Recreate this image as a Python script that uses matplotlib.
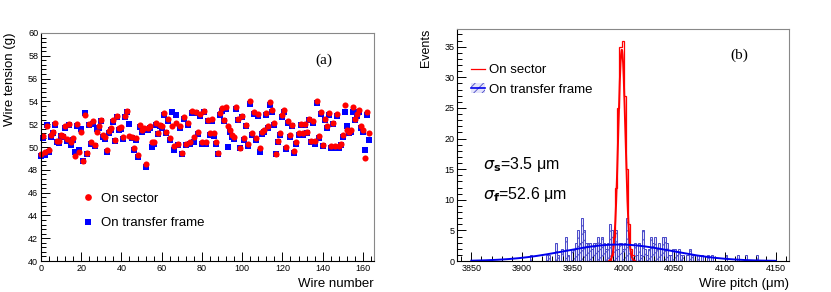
import numpy as np
import matplotlib
matplotlib.use("Agg")
import matplotlib.pyplot as plt
from matplotlib.ticker import MultipleLocator
from matplotlib.patches import Patch
from matplotlib.lines import Line2D

plt.rcParams['font.family'] = ['Liberation Sans', 'DejaVu Sans']
plt.rcParams['hatch.linewidth'] = 0.6

# (a) wire tension per wire
wire = np.arange(164)
tension_sector = [
    49.4, 51.0, 49.6, 51.85, 49.75, 51.05, 51.35, 52.1, 50.5, 50.5,
    51.05, 51.0, 51.85, 50.7, 52.05, 50.4, 50.8, 49.2, 52.0, 49.6,
    51.35, 48.8, 52.8, 49.45, 52.0, 50.45, 52.25, 50.2, 51.35, 51.85,
    52.4, 51.05, 50.9, 49.75, 51.4, 51.65, 52.4, 50.6, 52.75, 51.65,
    51.75, 50.85, 52.75, 53.2, 50.95, 50.85, 49.9, 50.75, 49.3, 51.95,
    51.5, 51.65, 48.5, 51.65, 51.8, 50.4, 50.4, 52.1, 51.25, 51.95,
    51.85, 53.0, 51.35, 52.45, 50.75, 51.85, 50.1, 52.1, 50.3, 51.8,
    49.5, 52.6, 50.3, 52.1, 50.45, 53.15, 50.9, 53.1, 51.35, 52.9,
    50.45, 53.2, 50.45, 52.4, 51.2, 52.45, 51.2, 50.45, 49.5, 52.95,
    53.4, 52.4, 53.5, 51.8, 51.5, 51.05, 50.85, 53.5, 52.5, 49.9,
    52.75, 50.75, 51.95, 50.25, 54.0, 51.2, 53.1, 50.75, 52.9, 49.9,
    51.3, 51.5, 52.95, 51.85, 53.95, 53.25, 52.1, 49.4, 50.55, 51.2,
    52.8, 53.25, 50.0, 52.3, 51.05, 51.95, 49.65, 50.45, 51.2, 52.05,
    51.2, 52.05, 51.35, 52.5, 50.55, 52.25, 50.55, 54.0, 50.95, 53.05,
    50.2, 52.5, 51.8, 52.95, 50.1, 52.15, 50.05, 52.9, 50.05, 50.3,
    51.05, 53.65, 51.5, 51.35, 51.5, 53.5, 52.5, 52.9, 53.25, 51.85,
    51.45, 49.05, 53.1, 51.25]
tension_frame = [
    49.25, 50.75, 49.3, 51.95, 49.6, 50.9, 51.2, 51.95, 50.4, 50.35,
    51.0, 50.85, 51.7, 50.55, 51.9, 50.2, 50.6, 49.55, 51.85, 49.75,
    51.55, 48.8, 52.95, 49.4, 51.95, 50.3, 52.05, 50.1, 51.6, 51.7,
    52.25, 50.85, 50.7, 49.6, 51.25, 51.5, 52.2, 50.5, 52.6, 51.5,
    51.6, 50.7, 52.6, 53.1, 52.0, 50.75, 49.75, 50.6, 49.1, 51.75,
    51.35, 51.5, 48.25, 51.5, 51.65, 50.0, 50.3, 51.95, 51.1, 51.8,
    51.65, 52.85, 51.2, 52.3, 50.6, 53.05, 49.75, 52.85, 50.15, 51.65,
    49.35, 52.45, 50.15, 51.9, 50.3, 53.0, 50.45, 53.0, 51.1, 52.7,
    50.3, 53.05, 50.3, 52.3, 51.05, 52.3, 51.0, 50.3, 49.35, 52.8,
    53.2, 52.25, 53.3, 50.0, 51.35, 50.9, 50.7, 53.3, 52.35, 49.9,
    52.6, 50.6, 51.8, 50.1, 53.8, 51.05, 52.9, 50.6, 52.7, 49.6,
    51.15, 51.35, 52.8, 51.7, 53.7, 53.1, 51.95, 49.35, 50.4, 51.05,
    52.65, 53.1, 49.85, 52.15, 50.9, 51.8, 49.5, 50.3, 51.05, 51.9,
    51.05, 51.9, 51.2, 52.35, 50.4, 52.1, 50.3, 53.85, 50.8, 52.9,
    50.05, 52.35, 51.65, 52.8, 49.95, 52.0, 49.9, 52.75, 49.9, 50.15,
    50.9, 53.1, 51.85, 51.2, 51.35, 53.1, 52.35, 52.7, 53.05, 51.7,
    51.3, 49.7, 52.85, 50.6]

# (b) wire pitch histograms (2 um bins, left edges)
sector_bins = [3988, 3990, 3992, 3994, 3996, 3998, 4000, 4002, 4004, 4006, 4008]
sector_counts = [1, 4, 12, 25, 35, 36, 27, 15, 6, 2, 1]
frame_bins = [3908, 3924, 3926, 3932, 3934, 3938, 3942, 3944, 3948, 3950,
              3952, 3954, 3956, 3958, 3960, 3962, 3964, 3966, 3968, 3970,
              3972, 3974, 3976, 3978, 3980, 3982, 3984, 3986, 3988, 3990,
              3992, 3994, 3996, 3998, 4000, 4002, 4004, 4006, 4008, 4010,
              4012, 4014, 4016, 4018, 4020, 4022, 4024, 4026, 4028, 4030,
              4032, 4034, 4036, 4038, 4040, 4042, 4044, 4046, 4048, 4050,
              4052, 4054, 4056, 4058, 4062, 4064, 4066, 4068, 4070, 4072,
              4076, 4082, 4086, 4100, 4112, 4120, 4130]
frame_counts = [1, 1, 1, 3, 1, 2, 4, 1, 2, 2,
                3, 5, 3, 7, 5, 3, 3, 3, 2, 3,
                3, 4, 3, 4, 3, 2, 3, 6, 5, 3,
                5, 2, 3, 2, 3, 7, 4, 2, 1, 3,
                1, 3, 1, 5, 2, 1, 2, 4, 3, 4,
                2, 3, 2, 4, 4, 3, 1, 1, 2, 2,
                1, 2, 1, 1, 1, 2, 1, 1, 1, 1,
                1, 1, 1, 1, 1, 1, 1]
# gaussian fit parameters
sector_fit = dict(mean=3998.3, sigma=3.5, amp=34.5)
frame_fit = dict(mean=3995.0, sigma=52.6, amp=2.7)

fig = plt.figure(figsize=(8.31, 2.92), dpi=100)
ax1 = fig.add_axes([0.0493, 0.106, 0.4007, 0.781])
ax2 = fig.add_axes([0.550, 0.106, 0.3995, 0.795])


def root_style(ax):
    for s in ['top', 'right']:
        ax.spines[s].set_color('#888888')
    for s in ['left', 'bottom']:
        ax.spines[s].set_color('black')
    for s in ax.spines.values():
        s.set_linewidth(0.8)
    ax.tick_params(which='both', direction='in', top=False, right=False,
                   labelsize=6.5, width=0.7)
    ax.tick_params(which='major', length=6.5)
    ax.tick_params(which='minor', length=3.3)
    ax.tick_params(axis='y', pad=2)
    ax.tick_params(axis='x', pad=2)


# ---- panel (a)
ax1.plot(wire, tension_frame, 's', color='#0000ff', ms=4.0, mew=0, clip_on=False,
         label='On transfer frame')
ax1.plot(wire, tension_sector, 'o', color='#ff0000', ms=4.4, mew=0, clip_on=False,
         label='On sector')
ax1.set_xlim(0, 165.5)
ax1.set_ylim(40, 60)
ax1.xaxis.set_major_locator(MultipleLocator(20))
ax1.xaxis.set_minor_locator(MultipleLocator(4))
ax1.yaxis.set_major_locator(MultipleLocator(2))
ax1.yaxis.set_minor_locator(MultipleLocator(0.4))
root_style(ax1)
ax1.set_xlabel('Wire number', fontsize=9.5, loc='right')
ax1.xaxis.set_label_coords(1.0, -0.075)
ax1.set_ylabel('Wire tension (g)', fontsize=9.5, loc='top')
ax1.yaxis.set_label_coords(-0.075, 1.0)
ax1.text(0.85, 0.88, '(a)', transform=ax1.transAxes, fontsize=11,
         family='Liberation Serif', ha='center', va='center')
h1, l1 = ax1.get_legend_handles_labels()
ax1.legend(h1[::-1], l1[::-1], loc='center left', bbox_to_anchor=(0.085, 0.22),
           frameon=False, fontsize=9.5, handlelength=1.0, handletextpad=0.5,
           labelspacing=0.95, markerscale=1.1)

# ---- panel (b)
mu = '\u03bc'
edges_s = sector_bins + [sector_bins[-1] + 2]
ax2.bar(frame_bins, frame_counts, width=2, align='edge', facecolor='#e4e4fa',
        hatch='////', edgecolor='#4848c8', linewidth=0.7)
ax2.stairs(sector_counts, edges_s, color='#ff0000', linewidth=0.9)

xs = np.linspace(3986, 4011, 200)
ax2.plot(xs, sector_fit['amp'] * np.exp(-0.5 * ((xs - sector_fit['mean']) / sector_fit['sigma']) ** 2),
         color='#ff0000', lw=1.4)
xf = np.linspace(3850, 4150, 400)
ax2.plot(xf, frame_fit['amp'] * np.exp(-0.5 * ((xf - frame_fit['mean']) / frame_fit['sigma']) ** 2),
         color='#0000ee', lw=1.4)

ax2.set_xlim(3836, 4163)
ax2.set_ylim(0, 37.9)
ax2.xaxis.set_major_locator(MultipleLocator(50))
ax2.xaxis.set_minor_locator(MultipleLocator(10))
ax2.yaxis.set_major_locator(MultipleLocator(5))
ax2.yaxis.set_minor_locator(MultipleLocator(1))
root_style(ax2)
ax2.set_xlabel('Wire pitch (' + mu + 'm)', fontsize=9.5, loc='right')
ax2.xaxis.set_label_coords(1.0, -0.075)
ax2.set_ylabel('Events', fontsize=9, loc='top')
ax2.yaxis.set_label_coords(-0.075, 1.0)
ax2.text(0.85, 0.885, '(b)', transform=ax2.transAxes, fontsize=11,
         family='Liberation Serif', ha='center', va='center')
ax2.text(0.078, 0.415, r'$\sigma_\mathbf{s}$=3.5 ' + mu + 'm', transform=ax2.transAxes,
         fontsize=11.5, va='center')
ax2.text(0.078, 0.285, r'$\sigma_\mathbf{f}$=52.6 ' + mu + 'm', transform=ax2.transAxes,
         fontsize=11.5, va='center')

hs = Line2D([], [], color='#ff0000', lw=0.9)
hf = (Patch(facecolor='#e4e4fa', hatch='////', edgecolor='#4848c8', lw=0),
      Line2D([], [], color='#0000ee', lw=1.2))
ax2.legend([hs, hf], ['On sector', 'On transfer frame'], loc='upper left',
           bbox_to_anchor=(0.005, 0.9), frameon=False, fontsize=9.5,
           handlelength=1.1, handletextpad=0.3, labelspacing=0.55)

fig.savefig('out.png', dpi=100)
